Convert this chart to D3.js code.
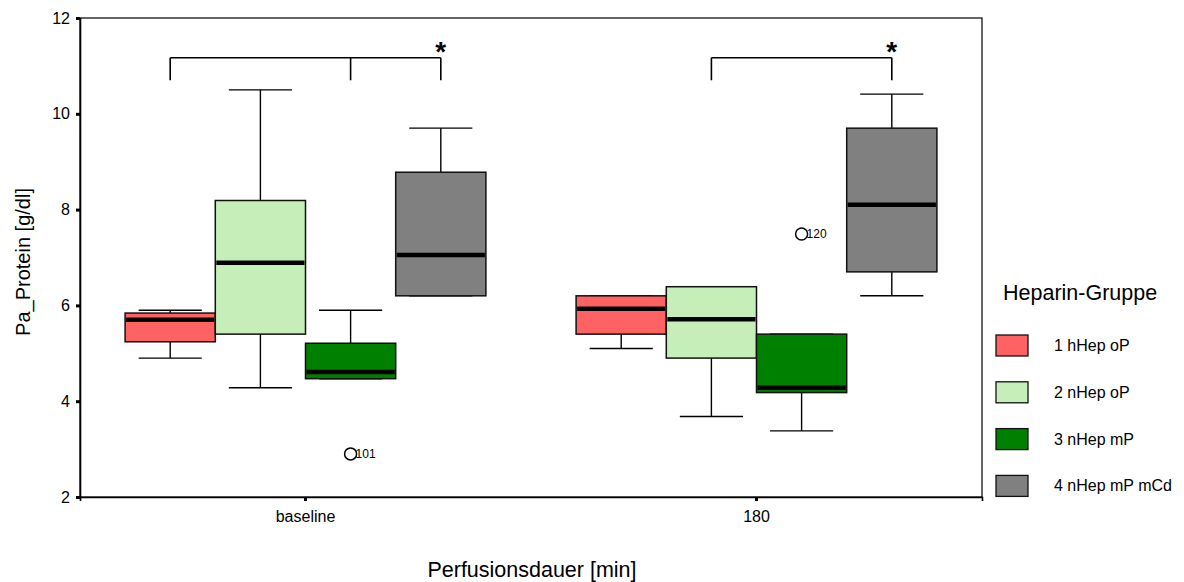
<!DOCTYPE html>
<html>
<head>
<meta charset="utf-8">
<script src="https://cdn.jsdelivr.net/npm/d3@7"></script>
<style>
  html, body { margin: 0; padding: 0; background: #fff; }
  svg { display: block; font-family: "Liberation Sans", Arial, sans-serif; }
</style>
</head>
<body>
<svg id="chart" width="1184" height="582"></svg>
<script>
// Perfusion time points (x categories) and heparin groups (box series)
const periods = ["baseline", "180"];
const groups = ["1 hHep oP", "2 nHep oP", "3 nHep mP", "4 nHep mP mCd"];
const groupColors = ["#FF6262", "#C5EEB8", "#008000", "#808080"];

// Box statistics per period (rows) and group (columns), Pa_Protein [g/dl]
const whiskerLow  = [[4.90, 4.28, 4.47, 6.20], [5.10, 3.68, 3.38, 6.20]];
const q1          = [[5.24, 5.40, 4.47, 6.20], [5.40, 4.90, 4.18, 6.70]];
const median      = [[5.70, 6.89, 4.61, 7.05], [5.93, 5.71, 4.28, 8.10]];
const q3          = [[5.84, 8.19, 5.21, 8.78], [6.20, 6.39, 5.40, 9.70]];
const whiskerHigh = [[5.90, 10.50, 5.90, 9.70], [6.20, 6.39, 5.40, 10.41]];

// Outliers: period, group index, value, case id
const outlierPeriod = ["baseline", "180"];
const outlierGroup = [2, 2];
const outlierValue = [2.90, 7.49];
const outlierId = ["101", "120"];

// Significance brackets: period, groups joined, bracket level and leg end
const bracketPeriod = ["baseline", "180"];
const bracketGroups = [[0, 2, 3], [1, 3]];
const bracketTop = 11.17;
const bracketLeg = 10.70;

const yTicks = [2, 4, 6, 8, 10, 12];

const svg = d3.select("#chart");
const margin = { left: 80, top: 18, right: 982, bottom: 497 };

const x = d3.scaleBand().domain(periods).range([margin.left, margin.right]).paddingInner(0.2).paddingOuter(0.1);
const xg = d3.scaleBand().domain(d3.range(groups.length)).range([0, x.bandwidth()]).padding(0);
const y = d3.scaleLinear().domain([2, 12]).range([margin.bottom, margin.top]);

// Plot frame
svg.append("rect")
  .attr("x", margin.left).attr("y", margin.top)
  .attr("width", margin.right - margin.left).attr("height", margin.bottom - margin.top)
  .attr("fill", "none").attr("stroke", "#000").attr("stroke-width", 1.2);

// Y axis
const yAxis = svg.append("g").attr("transform", `translate(${margin.left},0)`)
  .call(d3.axisLeft(y).tickValues(yTicks).tickSize(4).tickPadding(6).tickFormat(d3.format("d")));
yAxis.select(".domain").attr("stroke-width", 1.6);
yAxis.selectAll(".tick line").attr("stroke-width", 3);
yAxis.selectAll("text").attr("font-size", 16).attr("fill", "#000").attr("font-family", "Liberation Sans, Arial, sans-serif");

// X axis
const xAxis = svg.append("g").attr("transform", `translate(0,${margin.bottom})`)
  .call(d3.axisBottom(x).tickSize(4).tickPadding(10));
xAxis.select(".domain").attr("stroke-width", 1.6);
xAxis.selectAll(".tick line").attr("stroke-width", 3);
xAxis.selectAll("text").attr("font-size", 16).attr("fill", "#000").attr("font-family", "Liberation Sans, Arial, sans-serif");

// Axis titles
svg.append("text")
  .attr("transform", `translate(30,262) rotate(-90)`)
  .attr("text-anchor", "middle").attr("font-size", 20).text("Pa_Protein [g/dl]");
svg.append("text")
  .attr("x", 532).attr("y", 577)
  .attr("text-anchor", "middle").attr("font-size", 21.5).text("Perfusionsdauer [min]");

// Boxes
const boxW = xg.bandwidth();
const capW = boxW * 0.7;
periods.forEach((p, pi) => {
  groups.forEach((g, gi) => {
    const x0 = x(p) + xg(gi);
    const cx = x0 + boxW / 2;
    const box = svg.append("g");
    // whiskers
    box.append("line").attr("x1", cx).attr("x2", cx)
      .attr("y1", y(whiskerHigh[pi][gi])).attr("y2", y(q3[pi][gi]))
      .attr("stroke", "#000").attr("stroke-width", 1.4);
    box.append("line").attr("x1", cx).attr("x2", cx)
      .attr("y1", y(q1[pi][gi])).attr("y2", y(whiskerLow[pi][gi]))
      .attr("stroke", "#000").attr("stroke-width", 1.4);
    [whiskerHigh[pi][gi], whiskerLow[pi][gi]].forEach(v => {
      box.append("line").attr("x1", cx - capW / 2).attr("x2", cx + capW / 2)
        .attr("y1", y(v)).attr("y2", y(v))
        .attr("stroke", "#000").attr("stroke-width", 1.4);
    });
    // box body
    box.append("rect")
      .attr("x", x0).attr("width", boxW)
      .attr("y", y(q3[pi][gi])).attr("height", y(q1[pi][gi]) - y(q3[pi][gi]))
      .attr("fill", groupColors[gi]).attr("stroke", "#111").attr("stroke-width", 1.5);
    // median
    box.append("line").attr("x1", x0 + 1).attr("x2", x0 + boxW - 1)
      .attr("y1", y(median[pi][gi])).attr("y2", y(median[pi][gi]))
      .attr("stroke", "#000").attr("stroke-width", 4.5);
  });
});

// Outliers
outlierValue.forEach((v, i) => {
  const cx = x(outlierPeriod[i]) + xg(outlierGroup[i]) + boxW / 2;
  svg.append("circle").attr("cx", cx).attr("cy", y(v)).attr("r", 6)
    .attr("fill", "none").attr("stroke", "#000").attr("stroke-width", 1.5);
  svg.append("text").attr("x", cx + 5).attr("y", y(v) + 4)
    .attr("font-size", 12).text(outlierId[i]);
});

// Significance brackets
bracketGroups.forEach((gs, i) => {
  const p = bracketPeriod[i];
  const xs = gs.map(gi => x(p) + xg(gi) + boxW / 2);
  const b = svg.append("g").attr("stroke", "#000").attr("stroke-width", 1.6).attr("fill", "none");
  b.append("line").attr("x1", d3.min(xs)).attr("x2", d3.max(xs))
    .attr("y1", y(bracketTop)).attr("y2", y(bracketTop));
  xs.forEach(xx => {
    b.append("line").attr("x1", xx).attr("x2", xx)
      .attr("y1", y(bracketTop)).attr("y2", y(bracketLeg));
  });
  svg.append("text").attr("x", d3.max(xs)).attr("y", y(bracketTop) + 3)
    .attr("text-anchor", "middle").attr("font-size", 28).attr("font-weight", "bold").text("*");
});

// Legend
const legend = svg.append("g");
legend.append("text").attr("x", 1003).attr("y", 300).attr("font-size", 21.5).text("Heparin-Gruppe");
groups.forEach((g, i) => {
  const ly = 335 + i * 46.8;
  legend.append("rect").attr("x", 996).attr("y", ly).attr("width", 32).attr("height", 21)
    .attr("fill", groupColors[i]).attr("stroke", "#111").attr("stroke-width", 1.3);
  legend.append("text").attr("x", 1054).attr("y", ly + 16).attr("font-size", 16).text(g);
});
</script>
</body>
</html>
